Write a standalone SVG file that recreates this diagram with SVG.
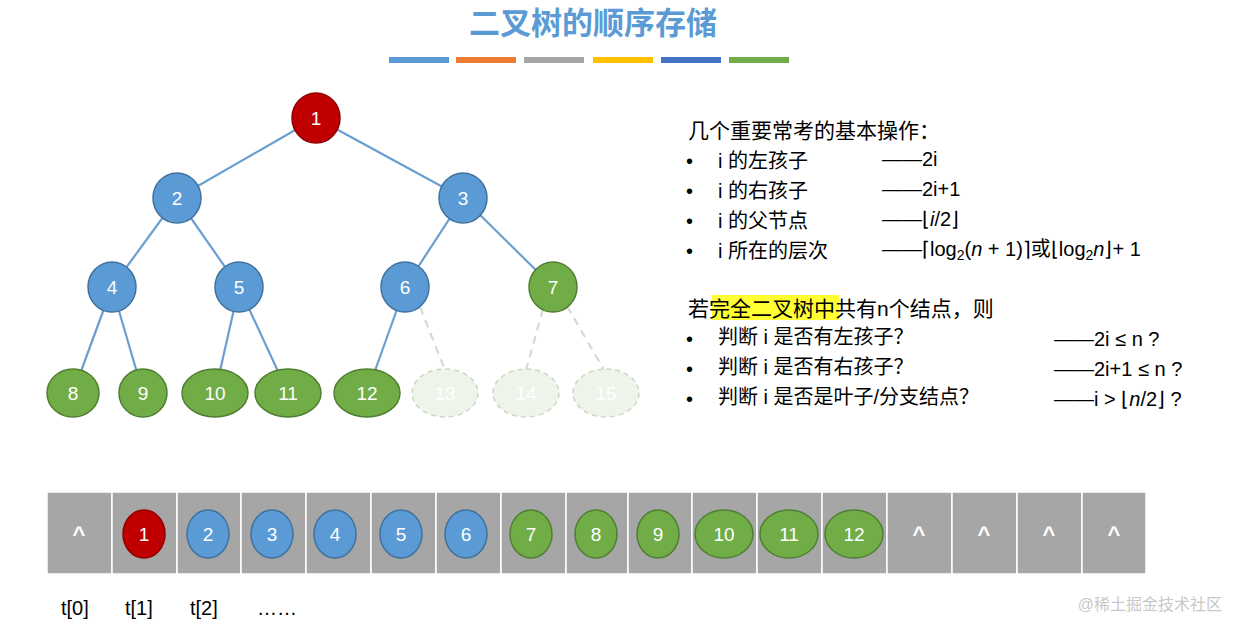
<svg xmlns="http://www.w3.org/2000/svg" width="1240" height="633" viewBox="0 0 1240 633">
<style>
text{font-family:"Liberation Sans","Noto Sans CJK SC",sans-serif}
.b{fill:#5b9bd5;stroke:#41719c;stroke-width:1.5}
.g{fill:#70ad47;stroke:#507e32;stroke-width:1.5}
.r{fill:#c00000;stroke:#8f0000;stroke-width:1.5}
.f{fill:#eef4ea;stroke:#c9d9c0;stroke-width:1.5;stroke-dasharray:5 4}
.n{fill:#fff;font-size:19px;text-anchor:middle;dominant-baseline:central}
.fn{fill:#fff;font-size:19px;text-anchor:middle;dominant-baseline:central}
.e{stroke:#6a9fd0;stroke-width:2.2}
.d{stroke:#d4dccf;stroke-width:2.2;stroke-dasharray:8 6}
.cell{fill:#a6a6a6;stroke:#fff;stroke-width:1.5}
.t{font-size:20px;fill:#000}
.c{fill:#fff;font-size:22px;font-weight:bold;text-anchor:middle}
</style>
<rect width="1240" height="633" fill="#fff"/>
<text x="593" y="34" font-size="31" font-weight="bold" fill="#5b9bd5" text-anchor="middle">二叉树的顺序存储</text>
<g>
<rect x="389" y="57" width="60" height="6" fill="#5b9bd5"/>
<rect x="456" y="57" width="60" height="6" fill="#ed7d31"/>
<rect x="524" y="57" width="60" height="6" fill="#a5a5a5"/>
<rect x="593" y="57" width="60" height="6" fill="#ffc000"/>
<rect x="661" y="57" width="60" height="6" fill="#4472c4"/>
<rect x="729" y="57" width="60" height="6" fill="#70ad47"/>
</g>
<g id="connectors">
<line class="e" x1="316" y1="118" x2="177" y2="198"/>
<line class="e" x1="316" y1="118" x2="463" y2="198"/>
<line class="e" x1="177" y1="198" x2="112" y2="287"/>
<line class="e" x1="177" y1="198" x2="239" y2="287"/>
<line class="e" x1="463" y1="198" x2="405" y2="287"/>
<line class="e" x1="463" y1="198" x2="553" y2="287"/>
<line class="e" x1="112" y1="287" x2="73" y2="393"/>
<line class="e" x1="112" y1="287" x2="143" y2="393"/>
<line class="e" x1="239" y1="287" x2="215" y2="393"/>
<line class="e" x1="239" y1="287" x2="288" y2="393"/>
<line class="e" x1="405" y1="287" x2="367" y2="393"/>
<line class="d" x1="420" y1="307" x2="445" y2="370"/>
<line class="d" x1="543" y1="309" x2="526" y2="370"/>
<line class="d" x1="567" y1="306" x2="604" y2="370"/>
</g>
<g id="n1"><ellipse class="r" cx="316" cy="118" rx="24" ry="25"/><text class="n" x="316" y="118">1</text></g>
<g id="n2"><ellipse class="b" cx="177" cy="198" rx="24" ry="25"/><text class="n" x="177" y="198">2</text></g>
<g id="n3"><ellipse class="b" cx="463" cy="198" rx="24" ry="25"/><text class="n" x="463" y="198">3</text></g>
<g id="n4"><ellipse class="b" cx="112" cy="287" rx="24" ry="25"/><text class="n" x="112" y="287">4</text></g>
<g id="n5"><ellipse class="b" cx="239" cy="287" rx="24" ry="25"/><text class="n" x="239" y="287">5</text></g>
<g id="n6"><ellipse class="b" cx="405" cy="287" rx="24" ry="25"/><text class="n" x="405" y="287">6</text></g>
<g id="n7"><ellipse class="g" cx="553" cy="287" rx="24" ry="25"/><text class="n" x="553" y="287">7</text></g>
<g id="n8"><ellipse class="g" cx="73" cy="393" rx="26" ry="24"/><text class="n" x="73" y="393">8</text></g>
<g id="n9"><ellipse class="g" cx="143" cy="393" rx="24" ry="24"/><text class="n" x="143" y="393">9</text></g>
<g id="n10"><ellipse class="g" cx="215" cy="393" rx="33" ry="24"/><text class="n" x="215" y="393">10</text></g>
<g id="n11"><ellipse class="g" cx="288" cy="393" rx="33" ry="24"/><text class="n" x="288" y="393">11</text></g>
<g id="n12"><ellipse class="g" cx="367" cy="393" rx="33" ry="24"/><text class="n" x="367" y="393">12</text></g>
<g id="n13"><ellipse class="f" cx="445" cy="393" rx="33" ry="24"/><text class="fn" x="445" y="393">13</text></g>
<g id="n14"><ellipse class="f" cx="526" cy="393" rx="33" ry="24"/><text class="fn" x="526" y="393">14</text></g>
<g id="n15"><ellipse class="f" cx="606" cy="393" rx="33" ry="24"/><text class="fn" x="606" y="393">15</text></g>

<g id="text1" class="t">
<text x="688" y="138" font-size="21">几个重要常考的基本操作：</text>
<text x="686" y="168">•</text><text x="718" y="168">i 的左孩子</text><text x="882" y="166">——2i</text>
<text x="686" y="198">•</text><text x="718" y="198">i 的右孩子</text><text x="882" y="196">——2i+1</text>
<text x="686" y="228">•</text><text x="718" y="228">i 的父节点</text><text x="882" y="226">——⌊<tspan font-style="italic">i</tspan>/2⌋</text>
<text x="686" y="258">•</text><text x="718" y="258">i 所在的层次</text><text x="882" y="256">——⌈log<tspan font-size="14" dy="4">2</tspan><tspan dy="-4">(</tspan><tspan font-style="italic">n</tspan> + 1)⌉或⌊log<tspan font-size="14" dy="4">2</tspan><tspan dy="-4" font-style="italic">n</tspan>⌋+ 1</text>
<rect x="712" y="295" width="127" height="25" fill="#ffff33"/>
<text x="688" y="316" font-size="21">若完全二叉树中共有n个结点，则</text>
<text x="686" y="346">•</text><text x="718" y="344">判断 i 是否有左孩子？</text><text x="1054" y="346">——2i ≤ n ?</text>
<text x="686" y="376">•</text><text x="718" y="374">判断 i 是否有右孩子？</text><text x="1054" y="376">——2i+1 ≤ n ?</text>
<text x="686" y="406">•</text><text x="718" y="404">判断 i 是否是叶子/分支结点？</text><text x="1054" y="406">——i &gt; ⌊<tspan font-style="italic">n</tspan>/2⌋ ?</text>
</g>

<g id="array">
<rect class="cell" x="47" y="492" width="65" height="82"/>
<rect class="cell" x="112" y="492" width="65" height="82"/>
<rect class="cell" x="177" y="492" width="64" height="82"/>
<rect class="cell" x="241" y="492" width="65" height="82"/>
<rect class="cell" x="306" y="492" width="65" height="82"/>
<rect class="cell" x="371" y="492" width="65" height="82"/>
<rect class="cell" x="436" y="492" width="65" height="82"/>
<rect class="cell" x="501" y="492" width="65" height="82"/>
<rect class="cell" x="566" y="492" width="62" height="82"/>
<rect class="cell" x="628" y="492" width="64" height="82"/>
<rect class="cell" x="692" y="492" width="65" height="82"/>
<rect class="cell" x="757" y="492" width="65" height="82"/>
<rect class="cell" x="822" y="492" width="65" height="82"/>
<rect class="cell" x="887" y="492" width="65" height="82"/>
<rect class="cell" x="952" y="492" width="65" height="82"/>
<rect class="cell" x="1017" y="492" width="65" height="82"/>
<rect class="cell" x="1082" y="492" width="64" height="82"/>
<text class="c" x="79" y="542">^</text>
<text class="c" x="919" y="542">^</text>
<text class="c" x="984" y="542">^</text>
<text class="c" x="1049" y="542">^</text>
<text class="c" x="1114" y="542">^</text>
<g id="a1"><ellipse class="r" cx="144" cy="534" rx="21" ry="24"/><text class="n" x="144" y="534">1</text></g>
<g id="a2"><ellipse class="b" cx="208" cy="534" rx="21" ry="24"/><text class="n" x="208" y="534">2</text></g>
<g id="a3"><ellipse class="b" cx="272" cy="534" rx="21" ry="24"/><text class="n" x="272" y="534">3</text></g>
<g id="a4"><ellipse class="b" cx="335" cy="534" rx="21" ry="24"/><text class="n" x="335" y="534">4</text></g>
<g id="a5"><ellipse class="b" cx="401" cy="534" rx="21" ry="24"/><text class="n" x="401" y="534">5</text></g>
<g id="a6"><ellipse class="b" cx="466" cy="534" rx="21" ry="24"/><text class="n" x="466" y="534">6</text></g>
<g id="a7"><ellipse class="g" cx="531" cy="534" rx="21" ry="24"/><text class="n" x="531" y="534">7</text></g>
<g id="a8"><ellipse class="g" cx="596" cy="534" rx="21" ry="24"/><text class="n" x="596" y="534">8</text></g>
<g id="a9"><ellipse class="g" cx="658" cy="534" rx="21" ry="24"/><text class="n" x="658" y="534">9</text></g>
<g id="a10"><ellipse class="g" cx="724" cy="534" rx="29" ry="24"/><text class="n" x="724" y="534">10</text></g>
<g id="a11"><ellipse class="g" cx="789" cy="534" rx="29" ry="24"/><text class="n" x="789" y="534">11</text></g>
<g id="a12"><ellipse class="g" cx="854" cy="534" rx="29" ry="24"/><text class="n" x="854" y="534">12</text></g>
</g>
<g class="t">
<text x="61" y="615">t[0]</text>
<text x="125" y="615">t[1]</text>
<text x="190" y="615">t[2]</text>
<text x="257" y="615">……</text>
</g>
<text x="1222" y="610" font-size="16" fill="#c8c8c8" text-anchor="end">@稀土掘金技术社区</text>
</svg>
